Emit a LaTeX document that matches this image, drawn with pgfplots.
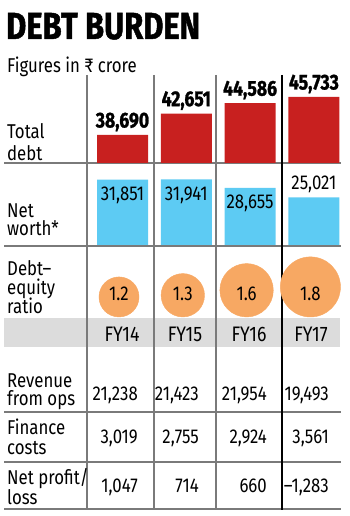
\documentclass[border=0pt]{standalone}
\usepackage{pgfplots}
\usepackage{pgfplotstable}
\pgfplotsset{compat=1.18}
\usepackage{fontspec}
\setmainfont{Fira Sans}[FakeStretch=0.84]
\newfontfamily\heavyfont{Fira Sans}[FakeStretch=0.82, BoldFeatures={FakeBold=1.2}]
\definecolor{debtred}{HTML}{C8201F}
\definecolor{nwblue}{HTML}{5DCBF3}
\definecolor{deorange}{HTML}{F7A863}
\definecolor{bandgray}{HTML}{DCDCDC}
\definecolor{linegray}{HTML}{7A7A7A}
\newcommand{\fs}[1]{\fontsize{#1}{#1}\selectfont}

\pgfplotstableread{
x y label
0 38690 38,690
1 42651 42,651
2 44586 44,586
3 45733 45,733
}\debt
\pgfplotstableread{
x y dy label
0 31851 -21 31,851
1 31941 -21 31,941
2 28655 -21 28,655
3 25021 8 25,021
}\networth
\pgfplotstableread{
x ratio label
0 1.2 1.2
1 1.3 1.3
2 1.6 1.6
3 1.8 1.8
}\deratio

\begin{document}
\begin{tikzpicture}
% frame in pixel coordinates (y downward)
\begin{axis}[at={(0pt,0pt)}, anchor=south west, scale only axis,
  width=350pt, height=516pt, xmin=0, xmax=350, ymin=0, ymax=516,
  y dir=reverse, hide axis, clip=false]
  \fill[bandgray] (axis cs:4,318) rectangle (axis cs:340,347);
  \foreach \yy in {163,246,412,462,509}{
    \edef\tmp{\noexpand\draw[linegray, line width=1.1pt] (axis cs:4,\yy) -- (axis cs:341,\yy);}\tmp}
  \foreach \xx in {87,154,216}{
    \edef\tmp{\noexpand\draw[linegray, line width=1.1pt] (axis cs:\xx,75) -- (axis cs:\xx,510);}\tmp}
  \draw[black, line width=1.1pt] (axis cs:282,75) -- (axis cs:282,510);
  % titles
  \node[anchor=base west, inner sep=0, font=\heavyfont\bfseries\fs{37.7}] at (axis cs:6,39) {DEBT BURDEN};
  \node[anchor=base west, inner sep=0, font=\fs{20}] at (axis cs:7,73) {Figures in ₹ crore};
  % row labels
  \begin{scope}[every node/.style={anchor=base west, inner sep=0, font=\fs{20}}]
  \node at (axis cs:7,139) {Total};
  \node at (axis cs:7,160) {debt};
  \node at (axis cs:7,217) {Net};
  \node at (axis cs:7,235) {worth*};
  \node at (axis cs:7,275) {Debt–};
  \node at (axis cs:7,294) {equity};
  \node at (axis cs:7,313) {ratio};
  \node at (axis cs:7,387) {Revenue};
  \node at (axis cs:7,405.5) {from ops};
  \node at (axis cs:7,434.5) {Finance};
  \node at (axis cs:7,454) {costs};
  \node at (axis cs:7,484.5) {Net profit/};
  \node at (axis cs:7,504) {loss};
  \end{scope}
  % year labels
  \begin{scope}[every node/.style={anchor=base, inner sep=0, font=\fs{21}}]
  \node at (axis cs:122,341) {FY14};
  \node at (axis cs:185,341) {FY15};
  \node at (axis cs:249,341) {FY16};
  \node at (axis cs:311,341) {FY17};
  \end{scope}
  % table values
  \begin{scope}[every node/.style={anchor=base east, inner sep=0, font=\fs{20}}]
  \node at (axis cs:138,400) {21,238};
  \node at (axis cs:199,400) {21,423};
  \node at (axis cs:267,400) {21,954};
  \node at (axis cs:329,400) {19,493};
  \node at (axis cs:138,443) {3,019};
  \node at (axis cs:199,443) {2,755};
  \node at (axis cs:267,443) {2,924};
  \node at (axis cs:329,443) {3,561};
  \node at (axis cs:138,492) {1,047};
  \node at (axis cs:199,492) {714};
  \node at (axis cs:267,492) {660};
  \node at (axis cs:329,492) {–1,283};
  \end{scope}
\end{axis}

% Total debt bars
\begin{axis}[at={(90.6pt,353pt)}, anchor=south west, scale only axis,
  width=255.2pt, height=90pt, xmin=-0.5, xmax=3.5, ymin=33500, ymax=50182,
  hide axis, clip=false, ybar, bar width=51pt]
  \addplot[fill=debtred, draw=none, nodes near coords, point meta=explicit symbolic,
    nodes near coords style={anchor=base, yshift=7.5pt, inner sep=0, font=\heavyfont\bfseries\fs{21.5}, text=black}]
    table[x=x, y=y, meta=label]{\debt};
\end{axis}

% Net worth bars
\begin{axis}[at={(90.6pt,271pt)}, anchor=south west, scale only axis,
  width=255.2pt, height=80pt, xmin=-0.5, xmax=3.5, ymin=6600, ymax=37524,
  hide axis, clip=false, ybar, bar width=51pt]
  \addplot[fill=nwblue, draw=none, nodes near coords, point meta=explicit symbolic,
    visualization depends on={\thisrow{dy} \as \dy},
    nodes near coords style={anchor=base, yshift=\dy, inner sep=0, font=\fs{20}, text=black}]
    table[x=x, y=y, meta=label]{\networth};
\end{axis}

% Debt-equity circles
\begin{axis}[at={(87.1pt,199pt)}, anchor=south west, scale only axis,
  width=255.2pt, height=60pt, xmin=-0.5, xmax=3.5, ymin=0, ymax=60,
  hide axis, clip=false]
  \addplot[scatter, only marks, mark=*,
    scatter/use mapped color={draw=deorange, fill=deorange},
    visualization depends on={16.7*\thisrow{ratio} \as \rad},
    scatter/@pre marker code/.append style={/tikz/mark size=\rad}]
    table[x=x, y expr=16.7*\thisrow{ratio}]{\deratio};
  \addplot[only marks, mark=none, nodes near coords, point meta=explicit symbolic,
    nodes near coords style={anchor=base, inner sep=0, font=\fs{20}, text=black}]
    table[x=x, y expr=16, meta=label]{\deratio};
\end{axis}
\pgfresetboundingbox
\path (0pt,0pt) rectangle (350pt,516pt);
\end{tikzpicture}
\end{document}
